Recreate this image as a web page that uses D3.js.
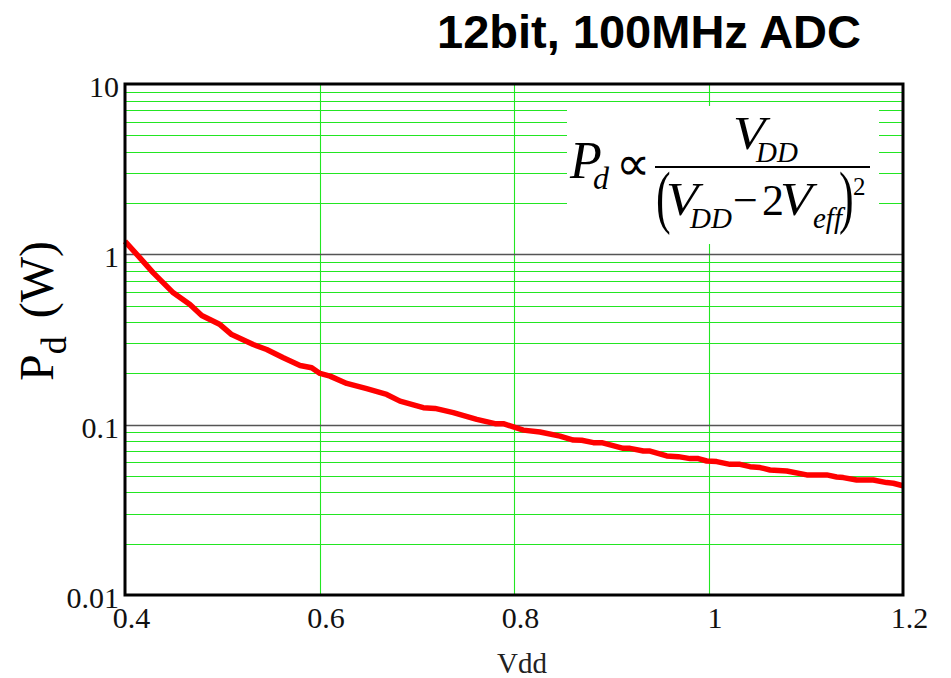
<!DOCTYPE html>
<html><head><meta charset="utf-8">
<script src="https://cdn.jsdelivr.net/npm/d3@7"></script>
<style>
html,body{margin:0;padding:0;background:#fff;}
svg{display:block;}
</style></head>
<body>
<svg id="chart" width="951" height="678"></svg>
<script>
// ---- data ----
const vdd = [0.400,0.4154,0.4291,0.4394,0.4497,0.4668,0.4789,0.4977,0.5097,0.5319,0.5457,0.5628,0.5800,0.5920,0.6005,0.6108,0.6280,0.6485,0.6691,0.6828,0.7067,0.7188,0.7376,0.7617,0.7805,0.7890,0.8096,0.8267,0.8473,0.8610,0.8696,0.8816,0.8902,0.9124,0.9193,0.9330,0.9399,0.9570,0.9690,0.9810,0.9895,0.9982,1.0084,1.0221,1.0324,1.0427,1.0530,1.0633,1.0804,1.1010,1.1216,1.1318,1.1386,1.1524,1.1695,1.1832,1.1900,1.2000];
const pd  = [1.192,0.953,0.778,0.680,0.594,0.507,0.437,0.387,0.338,0.2956,0.2763,0.2470,0.2227,0.2158,0.1998,0.1927,0.1746,0.1626,0.1505,0.1375,0.1258,0.1246,0.1176,0.1074,0.1014,0.1014,0.0929,0.0905,0.0857,0.0812,0.0810,0.0784,0.0784,0.0726,0.0726,0.0700,0.0700,0.0655,0.0649,0.0632,0.0632,0.0612,0.0607,0.0585,0.0585,0.0567,0.0560,0.0542,0.0535,0.0507,0.0507,0.0493,0.0489,0.0473,0.0473,0.0457,0.0453,0.0438];
const xTicks = [0.4, 0.6, 0.8, 1.0, 1.2];
const xTickLabels = ["0.4", "0.6", "0.8", "1", "1.2"];
const yTicks = [0.01, 0.1, 1, 10];
const yTickLabels = ["0.01", "0.1", "1", "10"];
const xGrid = [0.6, 0.8, 1.0];
const title = "12bit, 100MHz ADC";
const xLabel = "Vdd";

// ---- layout ----
const L = 125, R = 903, T = 84, B = 595;
const svg = d3.select("#chart");
const x = d3.scaleLinear().domain([0.4, 1.2]).range([L, R]);
const y = d3.scaleLog().domain([0.01, 10]).range([B, T]);
const serif = "'Liberation Serif','Times New Roman',serif";

// minor gridlines
const minor = y.ticks().filter(v => Math.abs(Math.log10(v) - Math.round(Math.log10(v))) > 1e-6);
svg.append("g").selectAll("line").data(minor).join("line")
  .attr("x1", L).attr("x2", R)
  .attr("y1", d => Math.round(y(d)) + 0.5).attr("y2", d => Math.round(y(d)) + 0.5)
  .attr("stroke", "#22e622").attr("stroke-width", 1.1);
// vertical gridlines
svg.append("g").selectAll("line").data(xGrid).join("line")
  .attr("x1", d => Math.round(x(d)) + 0.5).attr("x2", d => Math.round(x(d)) + 0.5)
  .attr("y1", T).attr("y2", B)
  .attr("stroke", "#22e622").attr("stroke-width", 1.1);
// major gridlines
svg.append("g").selectAll("line").data([0.1, 1]).join("line")
  .attr("x1", L).attr("x2", R)
  .attr("y1", d => Math.round(y(d)) + 0.5).attr("y2", d => Math.round(y(d)) + 0.5)
  .attr("stroke", "#555").attr("stroke-width", 1.5);

// formula box
svg.append("rect").attr("x", 567).attr("y", 106).attr("width", 312).attr("height", 138).attr("fill", "#fff");

// curve
const line = d3.line().x((d, i) => x(vdd[i])).y(d => y(d));
svg.append("path").datum(pd).attr("d", line)
  .attr("fill", "none").attr("stroke", "#ff0000").attr("stroke-width", 5.5)
  .attr("stroke-linejoin", "round");

// frame
svg.append("rect").attr("x", L).attr("y", T).attr("width", R - L).attr("height", B - T)
  .attr("fill", "none").attr("stroke", "#000").attr("stroke-width", 3);

// axes
const yAxis = d3.axisLeft(y).tickValues(yTicks).tickFormat((d, i) => yTickLabels[i]).tickSize(0).tickPadding(6);
const gy = svg.append("g").attr("transform", `translate(${L},0)`).call(yAxis);
gy.select(".domain").remove();
gy.selectAll("text").attr("font-family", serif).attr("font-size", 30).attr("fill", "#111").attr("dy", "0.42em");

const xAxis = d3.axisBottom(x).tickValues(xTicks).tickFormat((d, i) => xTickLabels[i]).tickSize(0).tickPadding(12);
const gx = svg.append("g").attr("transform", `translate(0,${B})`).call(xAxis);
gx.select(".domain").remove();
gx.selectAll("text").attr("font-family", serif).attr("font-size", 30).attr("fill", "#111").attr("dx", 6);

// axis titles
svg.append("text").attr("x", 522).attr("y", 673).attr("text-anchor", "middle")
  .attr("font-family", serif).attr("font-size", 29).attr("fill", "#222").text(xLabel);

const yl = svg.append("text").attr("transform", "translate(53,381) rotate(-90)")
  .attr("text-anchor", "start").attr("font-family", serif).attr("font-size", 48).attr("fill", "#000");
yl.append("tspan").text("P");
yl.append("tspan").attr("font-size", 36).attr("dy", 13).text("d");
yl.append("tspan").attr("dy", -13).attr("dx", 6).text("\u00a0(W)");

// title
svg.append("text").attr("x", 437).attr("y", 48)
  .attr("font-family", "'Liberation Sans',Arial,sans-serif").attr("font-weight", "bold")
  .attr("font-size", 47).attr("fill", "#000").text(title);

// formula
const F = svg.append("g").attr("font-family", serif).attr("fill", "#000");
function t(xp, yp, s, size, italic, sx, sy) {
  F.append("text").attr("transform", `translate(${xp},${yp}) scale(${sx || 1},${sy || 1})`)
    .attr("font-size", size)
    .attr("font-style", italic ? "italic" : "normal").text(s);
}
t(570, 178, "P", 52, true);
t(593, 189, "d", 32, true);
t(616, 180, "\u221D", 48, false);
F.append("line").attr("x1", 655).attr("x2", 870).attr("y1", 167).attr("y2", 167).attr("stroke", "#000").attr("stroke-width", 2);
t(733, 149, "V", 46, true, 1.15);
t(756, 162, "DD", 29, true);
t(656, 220, "(", 44, false, 1, 1.57);
t(666, 215, "V", 46, true, 1.15);
t(690, 228, "DD", 29, true);
t(733, 215, "\u2212", 44, false);
t(762, 215, "2", 44, false);
t(780, 215, "V", 46, true, 1.15);
t(813, 228, "eff", 29, true);
t(839, 220, ")", 44, false, 1, 1.57);
t(853, 195, "2", 25, false);
</script>
</body></html>
